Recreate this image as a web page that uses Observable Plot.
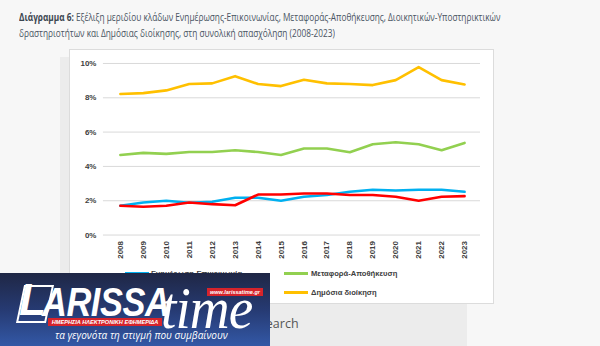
<!DOCTYPE html>
<html><head><meta charset="utf-8">
<script src="https://cdn.jsdelivr.net/npm/d3@7"></script>
<script src="https://cdn.jsdelivr.net/npm/@observablehq/plot@0.6"></script>
<style>
html,body{margin:0;padding:0;}
body{width:600px;height:346px;position:relative;overflow:hidden;background:#f7f7f7;font-family:"Open Sans",sans-serif;}
.tl{position:absolute;left:19px;white-space:nowrap;font-size:10.6px;line-height:14px;color:#4a5563;transform:scaleX(0.78);transform-origin:0 0;}
.tl b{color:#3b4650;}
#graybox{position:absolute;left:60px;top:57px;width:407px;height:289px;background:#ececec;}
#panel{position:absolute;left:69px;top:49px;width:423px;height:253px;background:#fff;border:1px solid #dcdcdc;}
#chart{position:absolute;left:0;top:0;}
.leg{position:absolute;font-family:"Liberation Sans",sans-serif;font-size:7.6px;font-weight:bold;color:#404040;white-space:nowrap;}
.sw{position:absolute;height:3px;width:24px;}
#search{position:absolute;left:259px;top:315px;font-family:"Open Sans",sans-serif;font-size:12.5px;color:#555;}
#logo{position:absolute;left:0;top:273px;width:270px;height:73px;background:linear-gradient(#1f2745 0%,#263a72 50%,#3358a6 100%);overflow:hidden;}
#logo .L{position:absolute;left:20px;top:12px;width:30px;height:38px;border:2px solid #fff;transform:skewX(-12deg);box-sizing:border-box;}
#logo .Lt{position:absolute;left:19px;top:10px;font-family:"Liberation Sans",sans-serif;font-weight:bold;font-style:italic;font-size:44px;color:#fff;line-height:34px;}
#logo .arissa{position:absolute;left:42px;top:14px;font-family:"Liberation Sans",sans-serif;font-weight:bold;font-style:italic;font-size:40px;color:#fff;line-height:30px;transform:scaleX(0.86);transform-origin:0 0;letter-spacing:-0.5px;}
#logo .time{position:absolute;left:161px;top:5px;font-family:"Liberation Serif",serif;font-style:italic;font-size:60px;color:#fff;line-height:60px;transform:scaleX(0.92);transform-origin:0 0;letter-spacing:-1px;}
#logo .url{position:absolute;left:207px;top:15px;background:#d6242b;color:#fff;font-family:"Liberation Sans",sans-serif;font-weight:bold;font-style:italic;font-size:5.5px;padding:1px 3px;}
#logo .ban{position:absolute;left:48px;top:44.5px;width:114px;background:#d6242b;color:#fff;font-family:"Liberation Sans",sans-serif;font-weight:bold;font-style:italic;font-size:5.6px;line-height:8px;text-align:center;}
#logo .tag{position:absolute;left:55px;top:55px;color:#fff;font-family:"Open Sans",sans-serif;font-style:italic;font-size:10px;}
</style></head>
<body>
<div class="tl" style="top:10px"><b>Διάγραμμα 6:</b> Εξέλιξη μεριδίου κλάδων Ενημέρωσης-Επικοινωνίας, Μεταφοράς-Αποθήκευσης, Διοικητικών-Υποστηρικτικών</div>
<div class="tl" style="top:26px">δραστηριοτήτων και Δημόσιας διοίκησης, στη συνολική απασχόληση (2008-2023)</div>
<div id="graybox"></div>
<div id="panel"><div id="chart"></div></div>
<div id="legend"></div>
<div id="search">Search</div>
<div id="logo">
  <div class="L"></div>
  <div class="Lt">L</div>
  <div class="arissa">ARISSA</div>
  <div class="time">time</div>
  <div class="url">www.larissatime.gr</div>
  <div class="ban">ΗΜΕΡΗΣΙΑ ΗΛΕΚΤΡΟΝΙΚΗ ΕΦΗΜΕΡΙΔΑ</div>
  <div class="tag">τα γεγονότα τη στιγμή που συμβαίνουν</div>
</div>
<script>
const years = ["2008","2009","2010","2011","2012","2013","2014","2015","2016","2017","2018","2019","2020","2021","2022","2023"];
const seriesNames = ["Ενημέρωση-Επικοινωνία","Διοικητικές-Υποστηρικτικές δραστηριότητες","Μεταφορά-Αποθήκευση","Δημόσια διοίκηση"];
const seriesColors = ["#00b0f0","#ff0000","#92d050","#ffc000"];
const infoComm     = [1.71,1.90,2.00,1.88,1.94,2.17,2.17,2.00,2.23,2.33,2.52,2.64,2.60,2.64,2.64,2.52];
const adminSupport = [1.71,1.65,1.71,1.90,1.80,1.74,2.36,2.36,2.42,2.42,2.33,2.33,2.23,2.00,2.23,2.27];
const transport    = [4.67,4.79,4.73,4.84,4.84,4.94,4.84,4.67,5.04,5.04,4.83,5.29,5.41,5.29,4.94,5.37];
const publicAdmin  = [8.22,8.27,8.43,8.80,8.84,9.26,8.80,8.68,9.05,8.84,8.80,8.74,9.03,9.79,9.03,8.78];
const yTicks = [0,0.02,0.04,0.06,0.08,0.10];

const allSeries = [infoComm, adminSupport, transport, publicAdmin];
const rows = allSeries.flatMap((vals, i) => vals.map((v, j) => ({year: years[j], value: v/100, series: seriesNames[i]})));

const chart = Plot.plot({
  width: 424, height: 215,
  marginLeft: 33, marginRight: 13, marginTop: 13, marginBottom: 30,
  style: {fontFamily: "Liberation Sans, sans-serif", color: "#404040", background: "transparent"},
  x: {type: "point", domain: years, padding: 0.5, label: null},
  y: {domain: [0, 0.10], label: null},
  color: {domain: seriesNames, range: seriesColors},
  marks: [
    Plot.gridY(yTicks, {stroke: "#d9d9d9", strokeOpacity: 1, strokeWidth: 1}),
    Plot.axisY(yTicks, {tickSize: 0, tickPadding: 7, tickFormat: d3.format(".0%"), fontSize: 8, fontWeight: "bold", label: null}),
    Plot.axisX({tickSize: 0, tickPadding: 6, tickRotate: -90, fontSize: 8, fontWeight: "bold", label: null}),
    Plot.line(rows, {x: "year", y: "value", z: "series", stroke: "series", strokeWidth: 2.6, curve: "linear"})
  ]
});
document.getElementById("chart").appendChild(chart);

// legend (two columns, two rows)
const legendPos = [
  {sx: 125, tx: 151, y: 269},
  {sx: 72, tx: 98, y: 288},
  {sx: 284, tx: 311, y: 269},
  {sx: 284, tx: 311, y: 288}
];
const leg = document.getElementById("legend");
seriesNames.forEach((name, i) => {
  const p = legendPos[i];
  const sw = document.createElement("div");
  sw.className = "sw"; sw.style.left = p.sx + "px"; sw.style.top = (p.y + 3) + "px"; sw.style.background = seriesColors[i];
  const t = document.createElement("div");
  t.className = "leg"; t.style.left = p.tx + "px"; t.style.top = p.y + "px"; t.textContent = name;
  leg.appendChild(sw); leg.appendChild(t);
});
</script>
</body></html>
